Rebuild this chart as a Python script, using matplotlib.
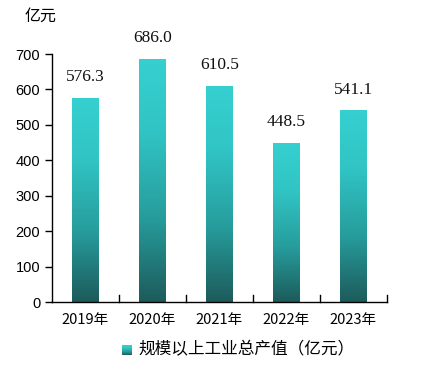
import matplotlib
matplotlib.use("Agg")
import matplotlib.pyplot as plt
import numpy as np
from matplotlib.colors import LinearSegmentedColormap

plt.rcParams['font.family'] = ['Noto Sans CJK SC', 'DejaVu Sans']

categories = ["2019年", "2020年", "2021年", "2022年", "2023年"]
values = [576.3, 686.0, 610.5, 448.5, 541.1]
yticks = [0, 100, 200, 300, 400, 500, 600, 700]
legend_label = "规模以上工业总产值（亿元）"
unit_label = "亿元"

cmap = LinearSegmentedColormap.from_list(
    "tealgrad", [(0.0, "#1d5b5b"), (0.35, "#279d9d"), (0.7, "#31c4c4"), (1.0, "#36d0d0")])

fig = plt.figure(figsize=(4.42, 3.70), dpi=100)
ax = fig.add_axes([52/442, 1-302/370, (387-52)/442, (302-54)/370])

x = np.arange(len(categories))
bw = 0.40
bars = ax.bar(x, values, width=bw, color="none", edgecolor="none")
grad = np.linspace(0, 1, 256).reshape(-1, 1)
for b in bars:
    bx, by = b.get_x(), b.get_y()
    w, h = b.get_width(), b.get_height()
    im = ax.imshow(grad, cmap=cmap, origin="lower", aspect="auto",
                   extent=[bx, bx + w, by, by + h], zorder=2)
    im.set_clip_path(b)

for xi, v in zip(x, values):
    ax.text(xi, v + 36, f"{v:.1f}", ha="center", va="bottom",
            fontsize=12.5, family=["Liberation Serif"], color="#111111")

ax.set_xlim(-0.5, len(categories) - 0.5)
ax.set_ylim(0, 700)
ax.set_yticks(yticks)
ax.set_yticklabels([str(t) for t in yticks], fontsize=10.5, family=["Liberation Sans"])
ax.set_xticks(x)
ax.set_xticklabels(categories, fontsize=10.5)
ax.tick_params(axis="x", length=0, pad=8)
ax.tick_params(axis="y", direction="out", length=5, width=1)
for b in np.arange(0.5, len(categories) - 0.5, 1.0).tolist() + [len(categories) - 0.5]:
    ax.plot([b, b], [0, 20], color="black", lw=1, clip_on=False, zorder=3)
for s in ["top", "right"]:
    ax.spines[s].set_visible(False)
ax.spines["left"].set_linewidth(1)
ax.spines["bottom"].set_linewidth(1)

fig.text(25/442, 1-16/370, unit_label, fontsize=11.5, ha="left", va="center")

# legend
lx, ly = 122/442, 1-350/370
pw, ph = 10/442, 10/370
lax = fig.add_axes([lx, ly - ph/2, pw, ph])
lax.imshow(grad, cmap=cmap, origin="lower", aspect="auto", extent=[0, 1, 0, 1])
lax.axis("off")
fig.text(138/442, ly, legend_label, fontsize=12, ha="left", va="center")

fig.savefig("out.png", dpi=100)
